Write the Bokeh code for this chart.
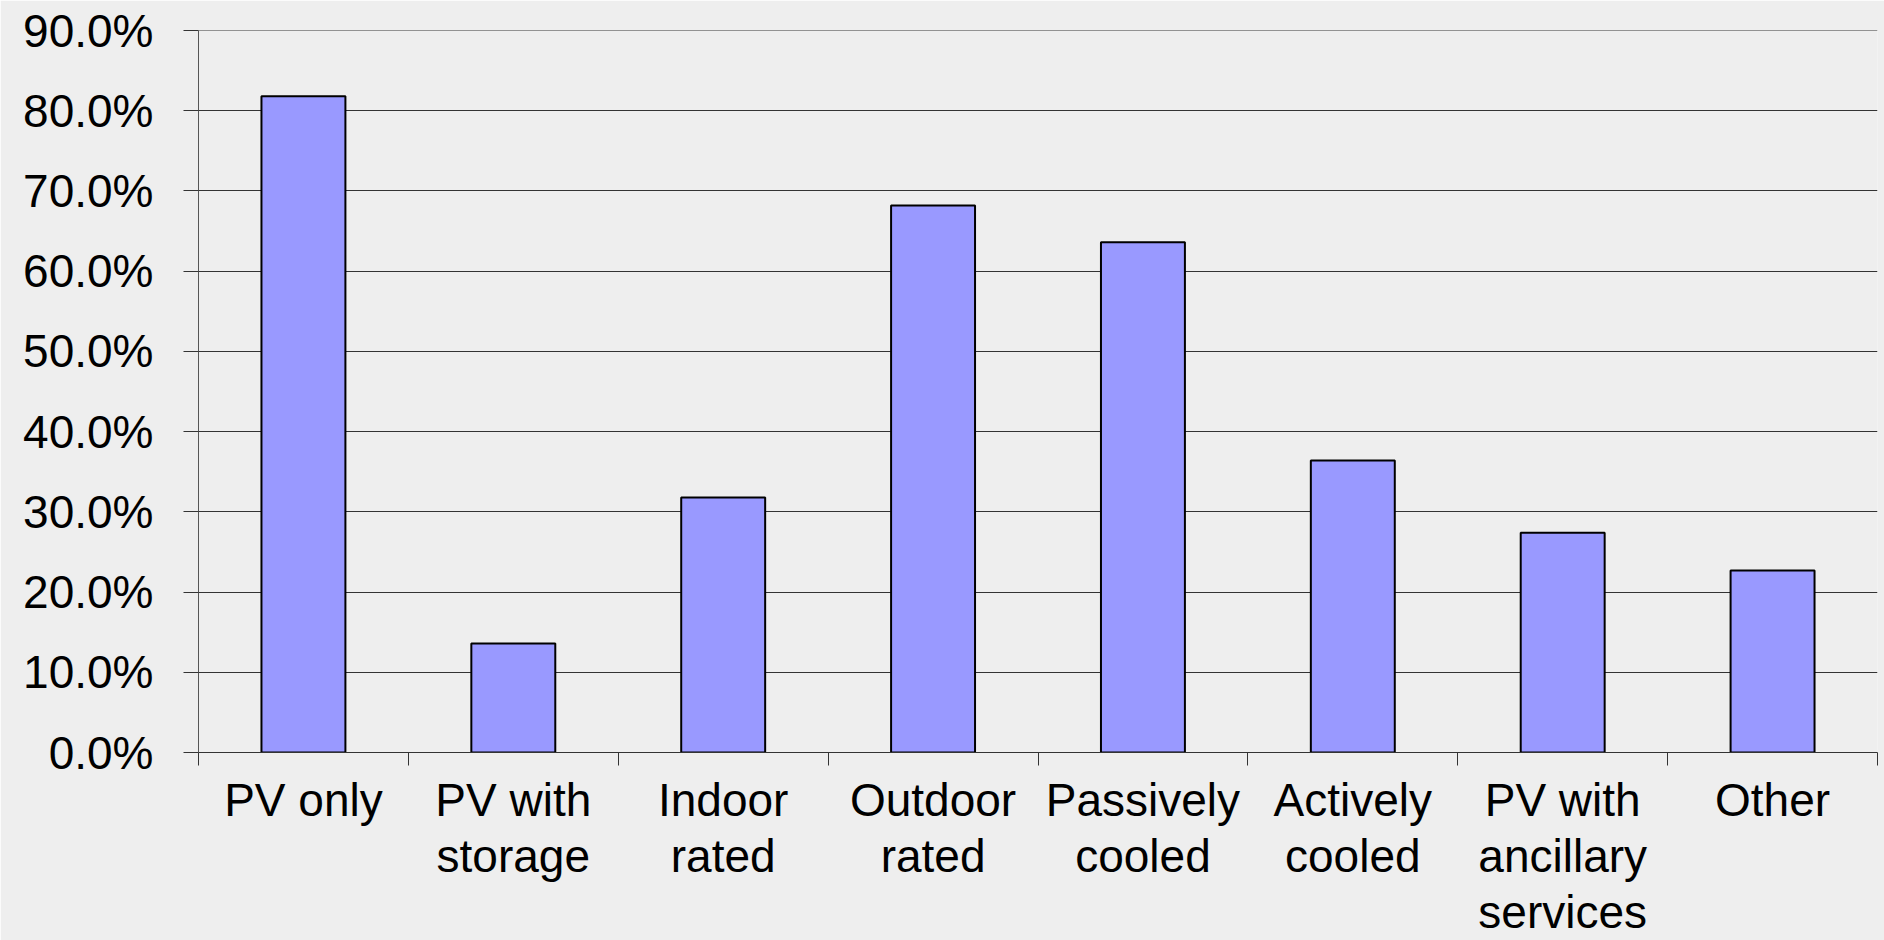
from bokeh.plotting import figure
from bokeh.models import (ColumnDataSource, FactorRange, Range1d, FixedTicker, Span,
                          NumeralTickFormatter, CategoricalAxis, CustomJSTickFormatter)
from bokeh.embed import file_html
from bokeh.resources import INLINE

categories = ["PV only", "PV with storage", "Indoor rated", "Outdoor rated",
              "Passively cooled", "Actively cooled", "PV with ancillary services", "Other"]
category_labels = ["PV only", "PV with\nstorage", "Indoor\nrated", "Outdoor\nrated",
                   "Passively\ncooled", "Actively\ncooled", "PV with\nancillary\nservices", "Other"]
shares = [0.818, 0.136, 0.318, 0.682, 0.636, 0.364, 0.274, 0.227]
y_ticks = [0.0, 0.1, 0.2, 0.3, 0.4, 0.5, 0.6, 0.7, 0.8, 0.9]

FONT = "Liberation Sans"
BG = "#EEEEEE"

src = ColumnDataSource(dict(cat=categories, val=shares))

p = figure(x_range=FactorRange(*categories), y_range=Range1d(y_ticks[0], y_ticks[-1]),
           width=1884, height=940, output_backend="svg", toolbar_location=None,
           min_border_left=198, min_border_right=7,
           min_border_top=30, min_border_bottom=187)
p.background_fill_color = BG
p.border_fill_color = BG
p.outline_line_color = None
p.xgrid.visible = False

# y axis
yax = p.yaxis[0]
yax.ticker = FixedTicker(ticks=y_ticks)
yax.formatter = NumeralTickFormatter(format="0.0%")
yax.major_label_text_font_size = "46px"
yax.major_label_text_font = FONT
yax.major_label_text_color = "black"
yax.major_label_standoff = 30
yax.major_tick_out = 15
yax.major_tick_in = 0
yax.minor_tick_out = 0
yax.minor_tick_in = 0
yax.axis_line_color = "#555555"
yax.major_tick_line_color = "#333333"

p.ygrid.ticker = FixedTicker(ticks=y_ticks)
p.ygrid.grid_line_color = "#333333"
p.ygrid.grid_line_width = 1
p.add_layout(Span(location=y_ticks[-1], dimension="width", line_color="#333333", line_width=1))

# x axis 1: tick marks on the category boundaries (synthetic coordinates 0..n)
xax = p.xaxis[0]
xax.ticker = FixedTicker(ticks=list(range(len(categories) + 1)))
xax.formatter = CustomJSTickFormatter(code="return ''")
xax.major_tick_out = 0
xax.major_tick_in = -13
xax.major_label_text_font_size = "1px"
xax.major_label_standoff = 0
xax.axis_line_color = "#333333"
xax.major_tick_line_color = "#333333"

# x axis 2: the category labels (wrapped)
lax = CategoricalAxis(formatter=CustomJSTickFormatter(
                          args=dict(names=categories, labels=category_labels),
                          code="const i = names.indexOf(tick); return i >= 0 ? labels[i] : String(tick);"),
                      axis_line_color=None, major_tick_line_color=None,
                      major_tick_out=0, major_tick_in=0,
                      major_label_standoff=21,
                      major_label_text_font_size="46px",
                      major_label_text_line_height=1.08,
                      major_label_text_font=FONT,
                      major_label_text_color="black")
p.add_layout(lax, "below")

p.vbar(x="cat", top="val", width=0.4, source=src,
       fill_color="#9999FF", line_color="black", line_width=2)

open("out.html", "w").write(file_html(p, INLINE))
